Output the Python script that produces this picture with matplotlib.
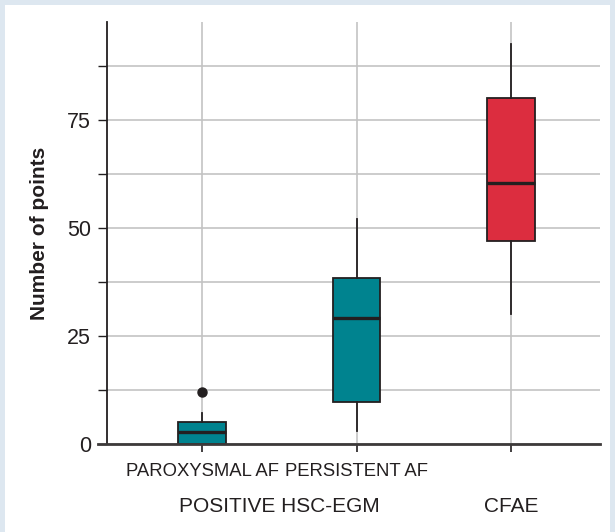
import numpy as np
import matplotlib
matplotlib.use("Agg")
from matplotlib import pyplot as plt
from matplotlib.patches import Rectangle
from matplotlib.transforms import ScaledTranslation

plt.rcParams['font.family'] = ['Liberation Sans', 'DejaVu Sans']

# box statistics
groups = ["PAROXYSMAL AF", "PERSISTENT AF", "CFAE"]
tick_labels = ["PAROXYSMAL AF", "PERSISTENT AF", ""]
q1 = [0.0, 9.8, 47.1]
med = [2.8, 29.2, 60.4]
q3 = [5.0, 38.4, 80.2]
whislo = [0.0, 3.1, 30.1]
whishi = [7.2, 52.0, 92.6]
fliers = [[12.1], [], []]
colors = ["#00838f", "#00838f", "#dc2d3f"]
group_labels = ["POSITIVE HSC-EGM", "CFAE"]
group_centers = [0.5, 2.0]

ink = "#231f20"

fig = plt.figure(figsize=(6.15, 5.32), dpi=100)
fig.patch.set_facecolor("#dde7f0")
fig.add_artist(Rectangle((5/615, 0), 605/615, 527/532, transform=fig.transFigure,
                         facecolor="white", edgecolor="none", zorder=-10))

ax = fig.add_axes([107/615, 1-444/532, 493/615, 422/532])
ax.set_facecolor("none")

stats = []
for i in range(len(groups)):
    stats.append(dict(q1=q1[i], med=med[i], q3=q3[i], whislo=whislo[i],
                      whishi=whishi[i], fliers=fliers[i]))

bp = ax.bxp(stats, positions=range(len(groups)), widths=0.305, patch_artist=True,
            showcaps=False,
            boxprops=dict(edgecolor=ink, linewidth=1.3),
            medianprops=dict(color=ink, linewidth=2.4),
            whiskerprops=dict(color=ink, linewidth=1.3),
            flierprops=dict(marker="o", markerfacecolor=ink, markeredgecolor=ink,
                            markersize=6.5))
for patch, c in zip(bp["boxes"], colors):
    patch.set_facecolor(c)
for art in bp["boxes"] + bp["medians"] + bp["whiskers"] + bp["fliers"]:
    art.set_zorder(3)

ax.set_xlim(-0.615, 2.576)
ax.set_ylim(0, 97.7)

ax.set_yticks([0, 25, 50, 75])
ax.set_yticks([12.5, 37.5, 62.5, 87.5], minor=True)
ax.set_xticks(range(len(groups)))
ax.set_xticklabels(tick_labels, fontsize=13.3, color=ink)
# first label sits a little left of its tick in the original
lbl = ax.get_xticklabels()[0]
lbl.set_transform(lbl.get_transform() + ScaledTranslation(-0.05, 0, fig.dpi_scale_trans))

ax.grid(True, which="both", color="#c3c3c3", linewidth=1.2, zorder=0)
ax.set_axisbelow(True)

ax.tick_params(axis="y", which="both", length=6.5, width=1, color=ink,
               labelsize=15.5, labelcolor=ink, pad=5)
ax.tick_params(axis="x", length=6, width=1.2, color=ink, pad=8)

for s in ["top", "right"]:
    ax.spines[s].set_visible(False)
ax.spines["left"].set_color(ink)
ax.spines["left"].set_linewidth(1.3)
ax.spines["bottom"].set_color("#3d3a3a")
ax.spines["bottom"].set_linewidth(2)
ax.spines["bottom"].set_bounds(-0.615 - 9/154.5, 2.576)
ax.spines["bottom"].set_zorder(4)

ax.set_ylabel("Number of points", fontsize=15, fontweight="bold", color=ink,
              labelpad=13)

for lab, xc in zip(group_labels, group_centers):
    ax.text(xc, -62/422, lab, transform=ax.get_xaxis_transform(), ha="center",
            va="center", fontsize=15, color=ink)

fig.savefig("out.png", dpi=100, facecolor=fig.get_facecolor())
